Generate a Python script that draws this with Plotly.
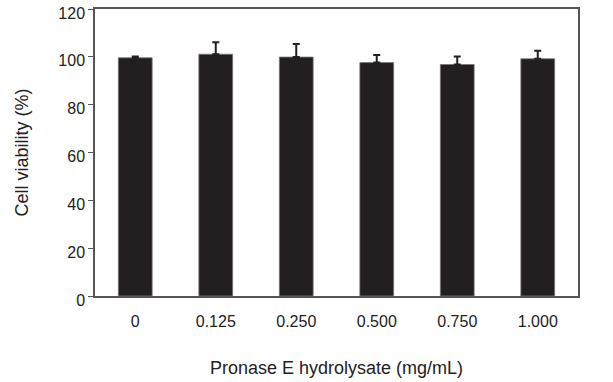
import plotly.graph_objects as go

categories = ["0", "0.125", "0.250", "0.500", "0.750", "1.000"]
viability = [99.6, 101.1, 99.9, 97.6, 96.8, 99.2]
errors = [0.5, 5.0, 5.5, 3.2, 3.3, 3.3]

dark = "#231f20"
axis_col = "#555555"
fam = "Liberation Sans, Arial, sans-serif"

fig = go.Figure(go.Bar(
    x=categories, y=viability,
    marker=dict(color=dark, line=dict(color="#777777", width=0.8)),
    error_y=dict(type="data", array=errors, symmetric=False, arrayminus=[0]*6,
                 color=dark, thickness=2, width=3.5),
))

fig.update_layout(
    width=613, height=382,
    margin=dict(l=95, r=35, t=9, b=86),
    paper_bgcolor="white", plot_bgcolor="white",
    bargap=0.58, showlegend=False,
    font=dict(family=fam, size=16, color="#222222"),
    xaxis=dict(
        type="category", automargin=False,
        showline=True, linecolor=axis_col, linewidth=1.5, mirror=True,
        ticks="", ticklabelstandoff=10, showgrid=False,
        tickfont=dict(size=16, family=fam, color="#222222"),
        title=dict(text="Pronase E hydrolysate (mg/mL)", standoff=32,
                   font=dict(size=18, family=fam, color="#222222")),
    ),
    yaxis=dict(
        range=[0, 120], tickvals=[0, 20, 40, 60, 80, 100, 120], automargin=False,
        showline=True, linecolor=axis_col, linewidth=1.5, mirror=True,
        ticks="outside", ticklen=5, tickcolor=axis_col, tickwidth=1.2,
        ticklabelshift=4,
        showgrid=False, zeroline=False,
        tickfont=dict(size=16, family=fam, color="#222222"),
        title=dict(text="Cell viability (%)", standoff=25,
                   font=dict(size=18, family=fam, color="#222222")),
    ),
)

fig.write_html("out.html", config={"displayModeBar": False},
               post_script="document.body.style.margin='0';")
